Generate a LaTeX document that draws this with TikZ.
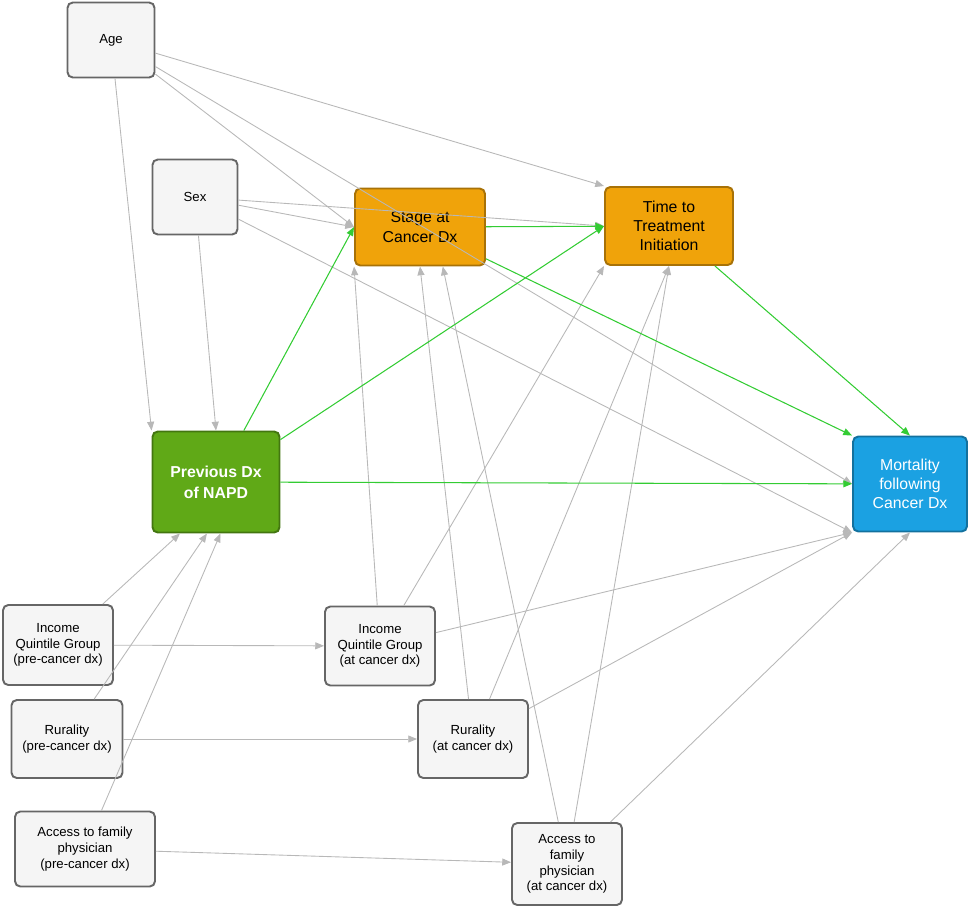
\documentclass[tikz,border=0pt]{standalone}
\usepackage{fontspec}
\setmainfont{Liberation Sans}
\usetikzlibrary{arrows.meta}
\definecolor{stagec}{HTML}{F0A30A}
\definecolor{napdc}{HTML}{60A917}
\definecolor{mortc}{HTML}{1BA1E2}
\tikzset{
  box/.style={draw=black!60, line width=1.1pt, rounded corners=3pt, fill=black!4, align=center, font=\fontsize{7.5}{9}\selectfont, inner sep=1pt},
  hot/.style={box, font=\fontsize{9}{11}\selectfont},
  gr/.style={draw=black!28, line width=0.5pt, -{Triangle[length=5pt,width=4pt]}},
  gn/.style={draw=green!75!black!80, line width=0.6pt, -{Triangle[length=5pt,width=4pt]}}
}
\begin{document}
\begin{tikzpicture}[x=0.02cm, y=-0.02cm]
    \useasboundingbox (0,0) rectangle (969,907);

    \node[box, minimum width=87*0.02cm, minimum height=75*0.02cm] (age) at (111,40) {Age};
    \node[box, minimum width=85*0.02cm, minimum height=75*0.02cm] (sex) at (195,197) {Sex};
    \node[hot, fill=stagec, draw=stagec!70!black, minimum width=130*0.02cm, minimum height=77*0.02cm] (stage) at (420,227) {Stage at\\Cancer Dx};
    \node[hot, fill=stagec, draw=stagec!70!black, minimum width=128*0.02cm, minimum height=78*0.02cm] (time) at (669,226) {Time to\\Treatment\\Initiation};
    \node[hot, fill=napdc, draw=napdc!70!black, text=white, font=\bfseries\fontsize{9}{12}\selectfont, minimum width=127*0.02cm, minimum height=101*0.02cm] (napd) at (216,482) {Previous Dx\\of NAPD};
    \node[hot, fill=mortc, draw=mortc!70!black, text=white, minimum width=114*0.02cm, minimum height=95*0.02cm] (mort) at (910,484) {Mortality\\following\\Cancer Dx};
    \node[box, minimum width=110*0.02cm, minimum height=80*0.02cm] (incpre) at (58,645) {Income\\Quintile Group\\(pre-cancer dx)};
    \node[box, minimum width=110*0.02cm, minimum height=79*0.02cm] (incat) at (380,646) {Income\\Quintile Group\\(at cancer dx)};
    \node[box, minimum width=111*0.02cm, minimum height=78*0.02cm] (rurpre) at (67,739) {Rurality\\(pre-cancer dx)};
    \node[box, minimum width=110*0.02cm, minimum height=78*0.02cm] (rurat) at (473,739) {Rurality\\(at cancer dx)};
    \node[box, minimum width=140*0.02cm, minimum height=75*0.02cm] (accpre) at (85,849) {Access to family\\physician\\(pre-cancer dx)};
    \node[box, minimum width=110*0.02cm, minimum height=82*0.02cm] (accat) at (567,864) {Access to\\family\\physician\\(at cancer dx)};

    % grey influences
    \draw[gr] (age) -- (napd.north west);
    \draw[gr] (age) -- (stage.west);
    \draw[gr] (age) -- (time.north west);
    \draw[gr] (age) -- (mort.west);
    \draw[gr] (sex) -- (napd.north);
    \draw[gr] (sex) -- (stage.west);
    \draw[gr] (sex) -- (time.west);
    \draw[gr] (sex) -- (mort.south west);
    \draw[gr] (incpre) -- (napd.-125);
    \draw[gr] (incpre) -- (incat);
    \draw[gr] (incat) -- (stage.south west);
    \draw[gr] (incat) -- (time.south west);
    \draw[gr] (incat) -- (mort.south west);
    \draw[gr] (rurpre) -- (napd.-100);
    \draw[gr] (rurpre) -- (rurat);
    \draw[gr] (rurat) -- (stage.south);
    \draw[gr] (rurat) -- (time.south);
    \draw[gr] (rurat) -- (mort.south west);
    \draw[gr] (accpre) -- (napd.-85);
    \draw[gr] (accpre) -- (accat);
    \draw[gr] (accat) -- (stage.-60);
    \draw[gr] (accat) -- (time.south);
    \draw[gr] (accat) -- (mort.south);

    % green paths
    \draw[gn] (napd) -- (stage.west);
    \draw[gn] (napd) -- (time.west);
    \draw[gn] (napd) -- (mort);
    \draw[gn] (stage) -- (time);
    \draw[gn] (stage) -- (mort.north west);
    \draw[gn] (time) -- (mort.north);
\end{tikzpicture}
\end{document}
